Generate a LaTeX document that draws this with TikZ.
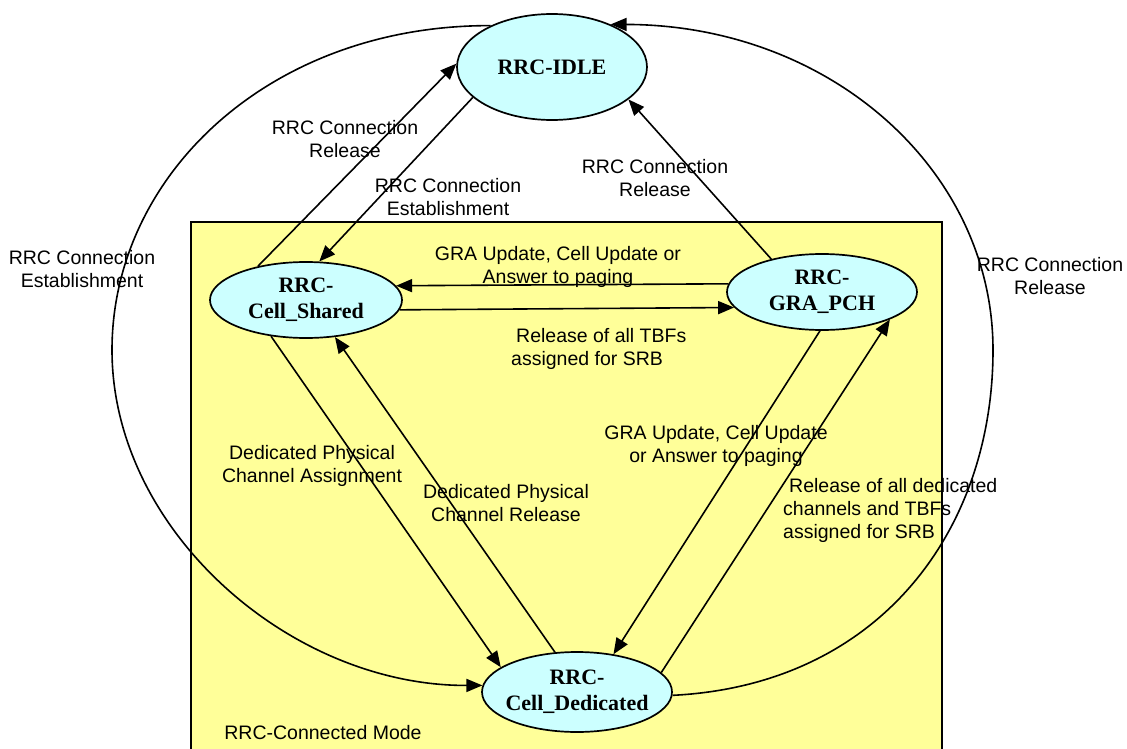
\documentclass[tikz,border=0pt]{standalone}
\usepackage{fontspec}
\setmainfont{Liberation Sans}
\newfontfamily\serifb{Liberation Serif}
\usetikzlibrary{shapes.geometric,arrows.meta}
\definecolor{boxyellow}{HTML}{FFFF99}
\definecolor{statecyan}{HTML}{CCFFFF}
\begin{document}
\begin{tikzpicture}[x=1pt,y=-1pt,
  state/.style={ellipse,draw,fill=statecyan,line width=1.7pt,inner xsep=-10pt,inner ysep=-6pt,align=center,
    font=\serifb\bfseries\fontsize{22}{26}\selectfont},
  lbl/.style={align=center,font=\fontsize{19.5}{23}\selectfont,inner sep=0pt},
  conn/.style={line width=1.6pt,-{Triangle[length=16pt,width=13pt]}},
]
\useasboundingbox (0,0) rectangle (1127,749);
\clip (0,0) rectangle (1127,749);
\fill[white] (0,0) rectangle (1127,749);
\draw[fill=boxyellow,line width=1.5pt] (191,222) rectangle (942,760);

\node[state,minimum width=190pt,minimum height=106pt] (idle) at (552,67) {RRC-IDLE};
\node[state,minimum width=192pt,minimum height=76pt] (shared) at (306,300) {RRC-\\Cell\_Shared};
\node[state,minimum width=190pt,minimum height=76pt] (gra) at (822,292) {RRC-\\GRA\_PCH};
\node[state,minimum width=190pt,minimum height=80pt] (ded) at (577,692) {RRC-\\Cell\_Dedicated};

\coordinate (lw) at (112,350);
\coordinate (rw) at (993,350);

\draw[conn] (idle.146) .. controls (270,25) and (112,175) .. (lw) .. controls (112,530) and (290,686) .. (ded.176);
\draw[conn] (ded.358) .. controls (880,685) and (993,530) .. (rw) .. controls (993,170) and (830,25) .. (idle.36);

\draw[conn] (shared.145) -- (idle.178);
\draw[conn] (idle.201) -- (shared.71);
\draw[conn] (gra.147) -- (idle.337);
\draw[conn] (gra.175) -- (shared.9);
\draw[conn] (shared.354) -- (gra.190);
\draw[conn] (shared.226) -- (ded.162);
\draw[conn] (ded.119) -- (shared.308);
\draw[conn] (gra.267) -- (ded.46);
\draw[conn] (ded.13) -- (gra.338);

\node[lbl] (l1) at (345,139) {RRC Connection\\Release};
\node[lbl] (l2) at (448,197) {RRC Connection\\Establishment};
\node[lbl] (l3) at (655,178) {RRC Connection\\Release};
\node[lbl] (l4) at (82,269) {RRC Connection\\Establishment};
\node[lbl] (l5) at (1050,276) {RRC Connection\\Release};
\node[lbl] (l6) at (558,267) {GRA Update, Cell Update or\\Answer to paging};
\node[lbl,align=left,anchor=west] (l7) at (511,349) {\hspace{5pt}Release of all TBFs\\assigned for SRB};
\node[lbl] (l8) at (312,466) {Dedicated Physical\\Channel Assignment};
\node[lbl] (l9) at (506,503) {Dedicated Physical\\Channel Release};
\node[lbl] (l10) at (716,446) {GRA Update, Cell Update\\or Answer to paging};
\node[lbl,align=left,anchor=west] (l11) at (783,510) {\hspace{6pt}Release of all dedicated\\channels and TBFs\\assigned for SRB};
\node[lbl] (l12) at (323,733) {RRC-Connected Mode};
\end{tikzpicture}
\end{document}
